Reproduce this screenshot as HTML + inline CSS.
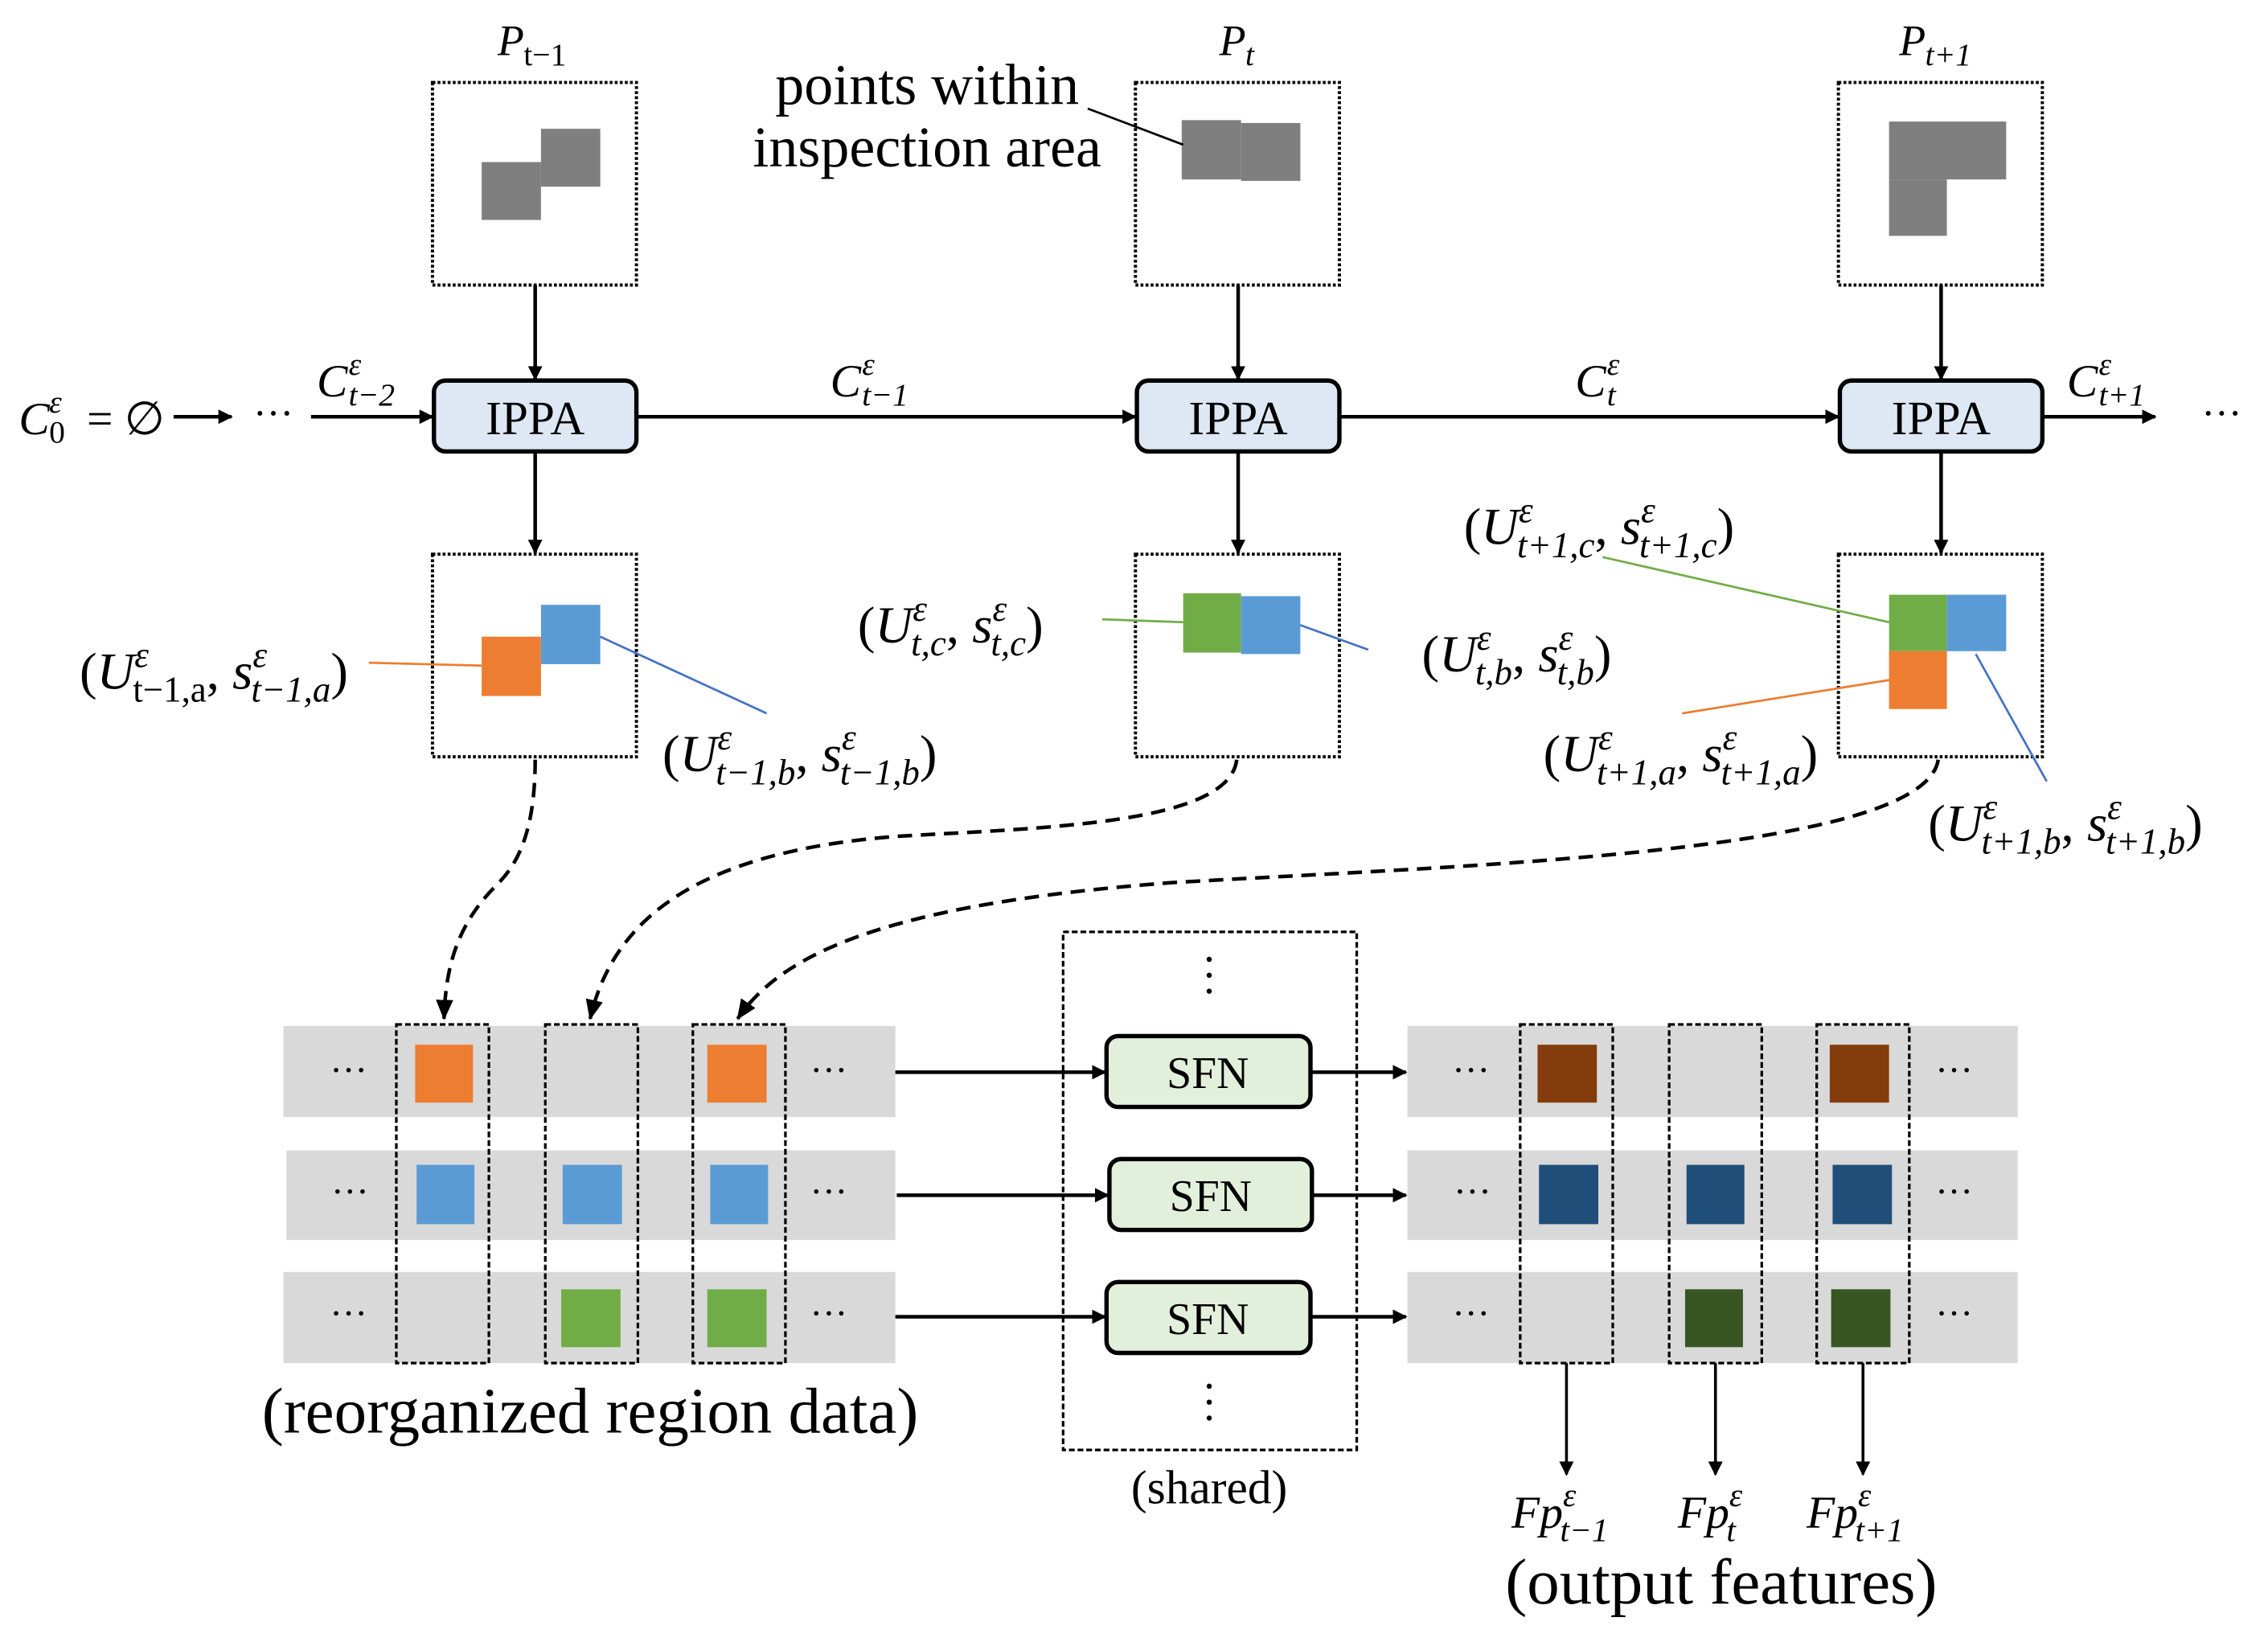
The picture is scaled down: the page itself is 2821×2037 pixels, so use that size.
<!DOCTYPE html>
<html><head><meta charset="utf-8"><style>
html,body{margin:0;padding:0;background:#fff}
svg{display:block}
text{font-family:"Liberation Serif",serif;fill:#000}
.m{font-style:italic}
</style></head><body>
<svg width="2821" height="2037" viewBox="0 0 1568 1132" preserveAspectRatio="none" xmlns="http://www.w3.org/2000/svg">
<defs>
<marker id="ah" markerWidth="10" markerHeight="10" refX="9" refY="5" orient="auto" markerUnits="userSpaceOnUse"><path d="M0,0 L10,5 L0,10 z" fill="#000"/></marker>
<marker id="ah2" markerWidth="14" markerHeight="12" refX="13" refY="6" orient="auto" markerUnits="userSpaceOnUse"><path d="M0,0 L14,6 L0,12 z" fill="#000"/></marker>
</defs>
<g fill="none" stroke="#000" stroke-width="2.2" stroke-dasharray="2,1.5">
<rect x="299" y="57" width="141" height="140"/>
<rect x="785" y="57" width="141" height="140"/>
<rect x="1271" y="57" width="141" height="140"/>
<rect x="299" y="383" width="141" height="140"/>
<rect x="785" y="383" width="141" height="140"/>
<rect x="1271" y="383" width="141" height="140"/>
</g>
<g fill="#7f7f7f">
<rect x="374" y="89" width="41" height="40"/><rect x="333" y="112" width="41" height="40"/>
<rect x="817" y="83" width="41" height="41"/><rect x="858" y="85" width="41" height="40"/>
<rect x="1306" y="84" width="81" height="40"/><rect x="1306" y="124" width="40" height="39"/>
</g>
<text x="344" y="38" font-size="30" class="m">P</text><text x="362" y="45" font-size="22">t−1</text>
<text x="843" y="38" font-size="30" class="m">P</text><text x="861" y="45" font-size="22" class="m">t</text>
<text x="1313" y="38" font-size="30" class="m">P</text><text x="1331" y="45" font-size="22" class="m">t+1</text>
<text x="641" y="72" font-size="40" text-anchor="middle">points within</text>
<text x="641" y="115" font-size="40" text-anchor="middle">inspection area</text>
<line x1="752" y1="75" x2="818" y2="100" stroke="#000" stroke-width="1.5"/>
<g stroke="#000" stroke-width="2.5" fill="none">
<line x1="370" y1="197" x2="370" y2="262" marker-end="url(#ah)"/>
<line x1="856" y1="197" x2="856" y2="262" marker-end="url(#ah)"/>
<line x1="1342" y1="197" x2="1342" y2="262" marker-end="url(#ah)"/>
<line x1="370" y1="312" x2="370" y2="382" marker-end="url(#ah)"/>
<line x1="856" y1="312" x2="856" y2="382" marker-end="url(#ah)"/>
<line x1="1342" y1="312" x2="1342" y2="382" marker-end="url(#ah)"/>
<line x1="440" y1="288" x2="785" y2="288" marker-end="url(#ah)"/>
<line x1="926" y1="288" x2="1271" y2="288" marker-end="url(#ah)"/>
<line x1="1412" y1="288" x2="1490" y2="288" marker-end="url(#ah)"/>
<line x1="215" y1="288" x2="299" y2="288" marker-end="url(#ah)"/>
<line x1="120" y1="288" x2="160" y2="288" marker-end="url(#ah)"/>
</g>
<g fill="#dde8f4" stroke="#000" stroke-width="3">
<rect x="300" y="263" width="140" height="49" rx="8"/>
<rect x="786" y="263" width="140" height="49" rx="8"/>
<rect x="1272" y="263" width="140" height="49" rx="8"/>
</g>
<g font-size="33" text-anchor="middle"><text x="370" y="300">IPPA</text><text x="856" y="300">IPPA</text><text x="1342" y="300">IPPA</text></g>
<text x="13" y="300" font-size="32" class="m">C</text><text x="34" y="285" font-size="22" class="m">ε</text><text x="34" y="306" font-size="22">0</text><text x="60" y="300" font-size="32">= ∅</text>
<text x="175" y="295" font-size="28">···</text><text x="1522" y="295" font-size="28">···</text>
<text x="219" y="274" font-size="32" class="m">C</text><text x="241" y="259" font-size="22" class="m">ε</text><text x="241" y="280" font-size="22" class="m">t−2</text>
<text x="574" y="274" font-size="32" class="m">C</text><text x="596" y="259" font-size="22" class="m">ε</text><text x="596" y="280" font-size="22" class="m">t−1</text>
<text x="1089" y="274" font-size="32" class="m">C</text><text x="1111" y="259" font-size="22" class="m">ε</text><text x="1111" y="280" font-size="22" class="m">t</text>
<text x="1429" y="274" font-size="32" class="m">C</text><text x="1451" y="259" font-size="22" class="m">ε</text><text x="1451" y="280" font-size="22" class="m">t+1</text>
<rect x="333" y="440" width="41" height="41" fill="#ed7d31"/><rect x="374" y="418" width="41" height="41" fill="#5b9bd5"/>
<rect x="818" y="410" width="40" height="41" fill="#70ad47"/><rect x="858" y="412" width="41" height="40" fill="#5b9bd5"/>
<rect x="1306" y="411" width="40" height="39" fill="#70ad47"/><rect x="1346" y="411" width="41" height="39" fill="#5b9bd5"/><rect x="1306" y="450" width="40" height="40" fill="#ed7d31"/>
<line x1="255" y1="458" x2="333" y2="460" stroke="#ed7d31" stroke-width="1.5"/>
<line x1="415" y1="440" x2="530" y2="493" stroke="#4472c4" stroke-width="1.5"/>
<line x1="762" y1="428" x2="818" y2="430" stroke="#70ad47" stroke-width="1.5"/>
<line x1="899" y1="432" x2="946" y2="449" stroke="#4472c4" stroke-width="1.5"/>
<line x1="1108" y1="385" x2="1306" y2="430" stroke="#70ad47" stroke-width="1.5"/>
<line x1="1163" y1="493" x2="1306" y2="470" stroke="#ed7d31" stroke-width="1.5"/>
<line x1="1366" y1="452" x2="1415" y2="540" stroke="#4472c4" stroke-width="1.5"/>
<g font-size="36">
<text x="55" y="476">(<tspan class="m">U</tspan><tspan font-size="25" dy="-15" class="m">ε</tspan><tspan font-size="25" dx="-11" dy="24">t−1,a</tspan><tspan dy="-9">, </tspan><tspan class="m">s</tspan><tspan font-size="25" dy="-15" class="m">ε</tspan><tspan font-size="25" dx="-11" dy="24" class="m">t−1,a</tspan><tspan dy="-9">)</tspan></text>
<text x="458" y="533">(<tspan class="m">U</tspan><tspan font-size="25" dy="-15" class="m">ε</tspan><tspan font-size="25" dx="-11" dy="24" class="m">t−1,b</tspan><tspan dy="-9">, </tspan><tspan class="m">s</tspan><tspan font-size="25" dy="-15" class="m">ε</tspan><tspan font-size="25" dx="-11" dy="24" class="m">t−1,b</tspan><tspan dy="-9">)</tspan></text>
<text x="593" y="444">(<tspan class="m">U</tspan><tspan font-size="25" dy="-15" class="m">ε</tspan><tspan font-size="25" dx="-11" dy="24" class="m">t,c</tspan><tspan dy="-9">, </tspan><tspan class="m">s</tspan><tspan font-size="25" dy="-15" class="m">ε</tspan><tspan font-size="25" dx="-11" dy="24" class="m">t,c</tspan><tspan dy="-9">)</tspan></text>
<text x="983" y="464">(<tspan class="m">U</tspan><tspan font-size="25" dy="-15" class="m">ε</tspan><tspan font-size="25" dx="-11" dy="24" class="m">t,b</tspan><tspan dy="-9">, </tspan><tspan class="m">s</tspan><tspan font-size="25" dy="-15" class="m">ε</tspan><tspan font-size="25" dx="-11" dy="24" class="m">t,b</tspan><tspan dy="-9">)</tspan></text>
<text x="1012" y="376">(<tspan class="m">U</tspan><tspan font-size="25" dy="-15" class="m">ε</tspan><tspan font-size="25" dx="-11" dy="24" class="m">t+1,c</tspan><tspan dy="-9">, </tspan><tspan class="m">s</tspan><tspan font-size="25" dy="-15" class="m">ε</tspan><tspan font-size="25" dx="-11" dy="24" class="m">t+1,c</tspan><tspan dy="-9">)</tspan></text>
<text x="1067" y="533">(<tspan class="m">U</tspan><tspan font-size="25" dy="-15" class="m">ε</tspan><tspan font-size="25" dx="-11" dy="24" class="m">t+1,a</tspan><tspan dy="-9">, </tspan><tspan class="m">s</tspan><tspan font-size="25" dy="-15" class="m">ε</tspan><tspan font-size="25" dx="-11" dy="24" class="m">t+1,a</tspan><tspan dy="-9">)</tspan></text>
<text x="1333" y="581">(<tspan class="m">U</tspan><tspan font-size="25" dy="-15" class="m">ε</tspan><tspan font-size="25" dx="-11" dy="24" class="m">t+1,b</tspan><tspan dy="-9">, </tspan><tspan class="m">s</tspan><tspan font-size="25" dy="-15" class="m">ε</tspan><tspan font-size="25" dx="-11" dy="24" class="m">t+1,b</tspan><tspan dy="-9">)</tspan></text>
</g>
<g fill="none" stroke="#000" stroke-width="2.5" stroke-dasharray="10,6">
<path d="M370,525 C370,580 355,600 343,612 C315,640 308,670 307,704" marker-end="url(#ah2)"/>
<path d="M855,525 C850,570 720,572 620,578 C490,588 425,630 408,704" marker-end="url(#ah2)"/>
<path d="M1340,525 C1330,590 1010,598 810,610 C610,625 540,660 510,704" marker-end="url(#ah2)"/>
</g>
<g fill="#d9d9d9">
<rect x="196" y="709" width="423" height="63"/><rect x="198" y="795" width="421" height="62"/><rect x="196" y="879" width="423" height="63"/>
<rect x="973" y="709" width="422" height="63"/><rect x="973" y="795" width="422" height="62"/><rect x="973" y="879" width="422" height="63"/>
</g>
<rect x="287" y="722" width="40" height="40" fill="#ed7d31"/><rect x="489" y="722" width="41" height="40" fill="#ed7d31"/>
<rect x="288" y="805" width="40" height="41" fill="#5b9bd5"/><rect x="389" y="805" width="41" height="41" fill="#5b9bd5"/><rect x="491" y="805" width="40" height="41" fill="#5b9bd5"/>
<rect x="388" y="891" width="41" height="40" fill="#70ad47"/><rect x="489" y="891" width="41" height="40" fill="#70ad47"/>
<rect x="1063" y="722" width="41" height="40" fill="#843c0c"/><rect x="1265" y="722" width="41" height="40" fill="#843c0c"/>
<rect x="1064" y="805" width="41" height="41" fill="#1f4e79"/><rect x="1166" y="805" width="40" height="41" fill="#1f4e79"/><rect x="1267" y="805" width="41" height="41" fill="#1f4e79"/>
<rect x="1165" y="891" width="40" height="40" fill="#375623"/><rect x="1266" y="891" width="41" height="40" fill="#375623"/>
<g fill="none" stroke="#000" stroke-width="1.8" stroke-dasharray="4,2">
<rect x="274" y="708" width="64" height="234"/><rect x="377" y="708" width="64" height="234"/><rect x="479" y="708" width="64" height="234"/>
<rect x="1051" y="708" width="64" height="234"/><rect x="1154" y="708" width="64" height="234"/><rect x="1256" y="708" width="64" height="234"/>
<rect x="735" y="644" width="203" height="358"/>
</g>
<g font-size="26">
<text x="228" y="748">···</text><text x="560" y="748">···</text>
<text x="229" y="832">···</text><text x="560" y="832">···</text>
<text x="228" y="916">···</text><text x="560" y="916">···</text>
<text x="1004" y="748">···</text><text x="1338" y="748">···</text>
<text x="1005" y="832">···</text><text x="1338" y="832">···</text>
<text x="1004" y="916">···</text><text x="1338" y="916">···</text>
</g>
<g fill="#000"><circle cx="836" cy="663" r="1.8"/><circle cx="836" cy="674" r="1.8"/><circle cx="836" cy="685" r="1.8"/>
<circle cx="836" cy="958" r="1.8"/><circle cx="836" cy="969" r="1.8"/><circle cx="836" cy="980" r="1.8"/></g>
<g stroke="#000" stroke-width="2.5" fill="none">
<line x1="619" y1="741" x2="764" y2="741" marker-end="url(#ah)"/>
<line x1="620" y1="826" x2="766" y2="826" marker-end="url(#ah)"/>
<line x1="619" y1="910" x2="764" y2="910" marker-end="url(#ah)"/>
<line x1="906" y1="741" x2="972" y2="741" marker-end="url(#ah)"/>
<line x1="907" y1="826" x2="972" y2="826" marker-end="url(#ah)"/>
<line x1="906" y1="910" x2="972" y2="910" marker-end="url(#ah)"/>
</g>
<g stroke="#000" stroke-width="2" fill="none">
<line x1="1083" y1="942" x2="1083" y2="1019" marker-end="url(#ah)"/>
<line x1="1186" y1="942" x2="1186" y2="1019" marker-end="url(#ah)"/>
<line x1="1288" y1="942" x2="1288" y2="1019" marker-end="url(#ah)"/>
</g>
<g fill="#e2efda" stroke="#000" stroke-width="3">
<rect x="765" y="716" width="141" height="49" rx="8"/>
<rect x="767" y="801" width="140" height="49" rx="8"/>
<rect x="765" y="886" width="141" height="49" rx="8"/>
</g>
<g font-size="31" text-anchor="middle"><text x="835" y="752">SFN</text><text x="837" y="837">SFN</text><text x="835" y="922">SFN</text></g>
<text x="408" y="990" font-size="45" text-anchor="middle">(reorganized region data)</text>
<text x="836" y="1039" font-size="33" text-anchor="middle">(shared)</text>
<text x="1190" y="1108" font-size="45" text-anchor="middle">(output features)</text>
<g font-size="32">
<text x="1045" y="1056" class="m">Fp<tspan font-size="23" dy="-15">ε</tspan><tspan font-size="23" dx="-11" dy="24">t−1</tspan></text>
<text x="1160" y="1056" class="m">Fp<tspan font-size="23" dy="-15">ε</tspan><tspan font-size="23" dx="-11" dy="24">t</tspan></text>
<text x="1249" y="1056" class="m">Fp<tspan font-size="23" dy="-15">ε</tspan><tspan font-size="23" dx="-11" dy="24">t+1</tspan></text>
</g>
</svg>
</body></html>
